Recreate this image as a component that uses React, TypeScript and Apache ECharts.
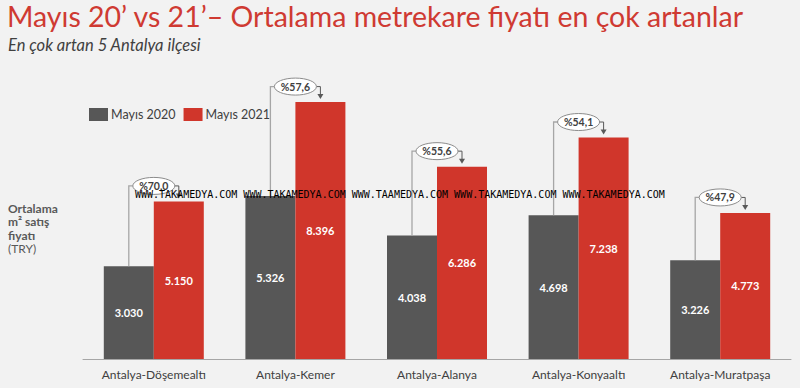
import React, { useEffect, useRef } from "react";
import * as echarts from "echarts";

const categories = ["Antalya-Döşemealtı", "Antalya-Kemer", "Antalya-Alanya", "Antalya-Konyaaltı", "Antalya-Muratpaşa"];
const may2020 = [3030, 5326, 4038, 4698, 3226];
const may2021 = [5150, 8396, 6286, 7238, 4773];
const changeLabels = ["%70,0", "%57,6", "%55,6", "%54,1", "%47,9"];
const seriesNames = ["Mayıs 2020", "Mayıs 2021"];
const watermark = "WWW.TAKAMEDYA.COM WWW.TAKAMEDYA.COM WWW.TAAMEDYA.COM WWW.TAKAMEDYA.COM WWW.TAKAMEDYA.COM";

const FONT = "Lato, 'Open Sans', sans-serif";
const DARK = "#575757";
const RED = "#D0362B";
const BAR_W = 50;

const fmt = (v: number) => v.toLocaleString("de-DE");

export default function App() {
  const ref = useRef<HTMLDivElement>(null);
  useEffect(() => {
    document.body.style.margin = "0";
    const chart = echarts.init(ref.current!, null, { renderer: "svg" });
    const barLabel = {
      show: true,
      position: "inside",
      color: "#fff",
      fontFamily: FONT,
      fontSize: 11,
      fontWeight: "bold",
      formatter: (p: any) => fmt(p.value),
    };
    chart.setOption({
      animation: false,
      backgroundColor: "#F2F2F2",
      textStyle: { fontFamily: FONT },
      grid: { left: 83, right: 9, top: 53, bottom: 29 },
      legend: {
        left: 84,
        top: 103,
        itemWidth: 19,
        itemHeight: 13,
        itemGap: 8,
        icon: "rect",
        data: seriesNames,
        textStyle: { fontFamily: FONT, fontSize: 12.5, color: "#404040", padding: [0, 0, 0, -2] },
      },
      xAxis: {
        type: "category",
        data: categories,
        axisLine: { lineStyle: { color: "#A6A6A6", width: 1 } },
        axisTick: { show: false },
        axisLabel: { fontFamily: FONT, fontSize: 12, color: "#404040", margin: 9 },
      },
      yAxis: { type: "value", min: 0, max: 10000, show: false },
      series: [
        {
          name: seriesNames[0],
          type: "bar",
          data: may2020,
          barWidth: BAR_W,
          barGap: "0%",
          itemStyle: { color: DARK },
          label: barLabel,
        },
        {
          name: seriesNames[1],
          type: "bar",
          data: may2021,
          barWidth: BAR_W,
          itemStyle: { color: RED },
          label: barLabel,
        },
        {
          type: "custom",
          z: 10,
          silent: true,
          data: may2020.map((v, k) => [k, v, may2021[k]]),
          renderItem: (params: any, api: any) => {
            const i = api.value(0);
            const a = api.coord([i, api.value(1)]);
            const b = api.coord([i, api.value(2)]);
            const cx = a[0];
            const darkX = cx - BAR_W / 2;
            const redX = cx + BAR_W / 2;
            const ey = b[1] - 15.5;
            const rx = 21;
            const ry = 8.5;
            const lineStyle = { stroke: "#A6A6A6", lineWidth: 1.3, fill: null };
            return {
              type: "group",
              children: [
                {
                  type: "polyline",
                  shape: { points: [[darkX, a[1]], [darkX, ey], [cx - rx, ey]] },
                  style: lineStyle,
                },
                {
                  type: "polyline",
                  shape: { points: [[cx + rx, ey], [redX, ey], [redX, b[1] - 7]] },
                  style: { stroke: "#595959", lineWidth: 1, fill: null },
                },
                {
                  type: "polygon",
                  shape: { points: [[redX - 3, b[1] - 8], [redX + 3, b[1] - 8], [redX, b[1] - 3]] },
                  style: { fill: "#595959" },
                },
                {
                  type: "ellipse",
                  shape: { cx: cx, cy: ey, rx: rx, ry: ry },
                  style: { fill: "#fff", stroke: "#8C8C8C", lineWidth: 1 },
                },
                {
                  type: "text",
                  x: cx,
                  y: ey,
                  style: {
                    text: changeLabels[i],
                    align: "center",
                    verticalAlign: "middle",
                    fontFamily: FONT,
                    fontSize: 10.5,
                    fontWeight: "bold",
                    fill: "#404040",
                  },
                },
              ],
            };
          },
        },
      ],
      graphic: [
        {
          type: "text",
          left: 7,
          top: 1,
          style: {
            text: "Mayıs 20’ vs 21’– Ortalama metrekare fiyatı en çok artanlar",
            fontFamily: FONT,
            fontSize: 28.5,
            fill: "#CF3A32",
          },
        },
        {
          type: "text",
          left: 8,
          top: 36,
          style: {
            text: "En çok artan 5 Antalya ilçesi",
            fontFamily: FONT,
            fontSize: 16.5,
            fontStyle: "italic",
            fill: "#404040",
          },
        },
        {
          type: "text",
          left: 8,
          top: 202,
          style: {
            text: "{b|Ortalama}\n{b|m² satış}\n{b|fiyatı}\n{n|(TRY)}",
            rich: {
              b: { fontFamily: FONT, fontSize: 12, fontWeight: "bold", fill: "#595959", lineHeight: 13.5 },
              n: { fontFamily: FONT, fontSize: 12, fill: "#595959", lineHeight: 13.5 },
            },
          },
        },
        {
          type: "text",
          left: 135,
          top: 189,
          z: 100,
          style: {
            text: watermark,
            fontFamily: "'DejaVu Sans Mono', monospace",
            fontSize: 10,
            fill: "#000",
          },
        },
      ],
    });
    return () => chart.dispose();
  }, []);
  return <div ref={ref} style={{ position: "fixed", left: 0, top: 0, width: 800, height: 388 }} />;
}
